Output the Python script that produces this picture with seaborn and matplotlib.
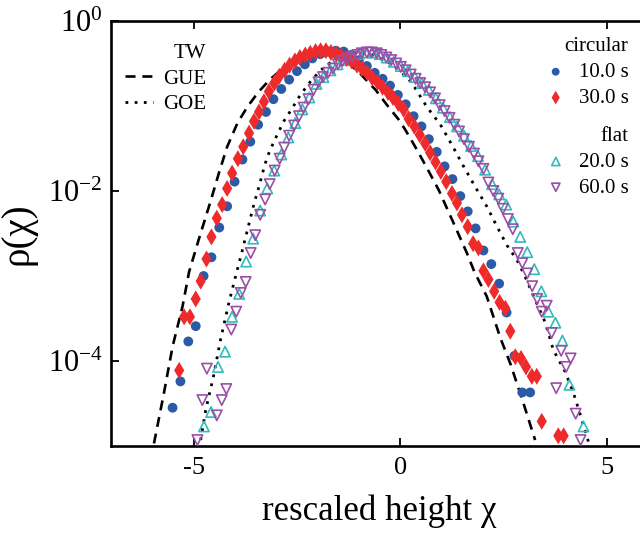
import numpy as np
import matplotlib
matplotlib.use("Agg")
import matplotlib.pyplot as plt
from matplotlib.ticker import NullLocator
import seaborn as sns

# curvas teoricas TW (x, log10 rho)
gue_x = [-5.96, -5.72, -5.51, -5.27, -5.11, -4.87, -4.59, -4.39, -4.19, -3.94, -3.70, -3.44,
         -3.16, -2.82, -2.42, -2.01, -1.61, -1.29, -0.97, -0.60, -0.32, -0.04, 0.12, 0.36,
         0.60, 0.93, 1.29, 1.61, 1.79, 2.09, 2.42, 2.66, 2.98, 3.26]
gue_logrho = [-4.97, -4.38, -3.83, -3.36, -2.95, -2.56, -2.12, -1.79, -1.48, -1.20, -1.01, -0.84,
              -0.69, -0.55, -0.43, -0.40, -0.41, -0.48, -0.62, -0.81, -0.99, -1.16, -1.28, -1.48,
              -1.69, -1.99, -2.38, -2.73, -2.95, -3.24, -3.73, -4.03, -4.50, -4.93]

goe_x = [-4.83, -4.71, -4.52, -4.35, -4.15, -4.01, -3.86, -3.70, -3.54, -3.42, -3.30, -3.22,
         -3.06, -2.82, -2.62, -2.42, -2.17, -1.93, -1.61, -1.25, -0.97, -0.64, -0.24, 0.16,
         0.32, 0.64, 0.97, 1.25, 1.53, 1.81, 2.09, 2.34, 2.58, 2.82, 3.02, 3.26, 3.50, 3.70,
         3.99, 4.19, 4.39, 4.55]
goe_logrho = [-4.93, -4.58, -4.18, -3.75, -3.32, -3.05, -2.77, -2.46, -2.15, -1.95, -1.73, -1.60,
              -1.42, -1.18, -1.03, -0.87, -0.71, -0.58, -0.46, -0.39, -0.37, -0.40, -0.50, -0.66,
              -0.76, -1.01, -1.22, -1.46, -1.71, -1.95, -2.18, -2.42, -2.64, -2.81, -3.01, -3.28,
              -3.54, -3.87, -4.13, -4.38, -4.69, -4.95]

# circular 10.0 s
circ10_x = [-5.51, -5.32, -5.13, -4.95, -4.76, -4.57, -4.38, -4.19, -4.01, -3.82, -3.63, -3.44,
            -3.25, -3.07, -2.88, -2.69, -2.50, -2.31, -2.13, -1.94, -1.75, -1.56, -1.37, -1.19,
            -1.00, -0.81, -0.62, -0.43, -0.25, -0.06, 0.13, 0.32, 0.51, 0.69, 0.88, 1.07,
            1.26, 1.45, 1.63, 1.82, 2.01, 2.20, 2.39, 2.57, 2.76, 2.95, 3.14]
circ10_logrho = [-4.55, -4.24, -3.77, -3.59, -3.00, -2.78, -2.43, -2.18, -1.89, -1.63, -1.42, -1.22,
                 -1.07, -0.92, -0.80, -0.69, -0.59, -0.51, -0.44, -0.39, -0.36, -0.35, -0.36, -0.40,
                 -0.46, -0.53, -0.61, -0.68, -0.76, -0.87, -0.98, -1.12, -1.24, -1.39, -1.54, -1.71,
                 -1.86, -2.06, -2.24, -2.44, -2.70, -2.86, -3.09, -3.43, -3.94, -4.37, -4.37]

# circular 30.0 s
circ30_x = [-5.35, -5.23, -5.09, -4.95, -4.83, -4.69, -4.57, -4.44, -4.31, -4.19, -4.07, -3.93,
            -3.80, -3.66, -3.54, -3.42, -3.30, -3.18, -3.05, -2.93, -2.80, -2.68, -2.55, -2.43,
            -2.30, -2.18, -2.05, -1.93, -1.80, -1.68, -1.55, -1.43, -1.30, -1.18, -1.05, -0.93,
            -0.80, -0.68, -0.55, -0.43, -0.30, -0.18, -0.05, 0.08, 0.20, 0.34, 0.47, 0.60,
            0.72, 0.85, 0.98, 1.11, 1.25, 1.37, 1.49, 1.63, 1.76, 1.89, 2.01, 2.13,
            2.27, 2.40, 2.54, 2.66, 2.78, 2.92, 3.04, 3.18, 3.30, 3.42, 3.82, 3.95]
circ30_logrho = [-4.11, -3.48, -3.48, -3.27, -3.06, -2.80, -2.54, -2.32, -2.16, -1.97, -1.79, -1.62,
                 -1.48, -1.32, -1.18, -1.07, -0.95, -0.83, -0.73, -0.65, -0.58, -0.52, -0.47, -0.43,
                 -0.40, -0.38, -0.36, -0.35, -0.35, -0.37, -0.39, -0.41, -0.44, -0.47, -0.52, -0.56,
                 -0.61, -0.67, -0.72, -0.78, -0.84, -0.90, -0.97, -1.04, -1.15, -1.24, -1.34, -1.44,
                 -1.55, -1.66, -1.77, -1.89, -2.03, -2.14, -2.28, -2.42, -2.62, -2.67, -2.94, -3.04,
                 -3.18, -3.31, -3.38, -3.65, -3.95, -3.97, -4.07, -4.18, -4.18, -4.71, -4.88, -4.88]

# flat 20.0 s
flat20_x = [-4.75, -4.58, -4.41, -4.24, -4.07, -3.90, -3.73, -3.56, -3.39, -3.22, -3.05, -2.88,
            -2.71, -2.54, -2.37, -2.20, -2.03, -1.86, -1.69, -1.52, -1.35, -1.18, -1.01, -0.84,
            -0.67, -0.50, -0.33, -0.16, 0.01, 0.18, 0.35, 0.52, 0.69, 0.86, 1.03, 1.20,
            1.37, 1.54, 1.71, 1.88, 2.05, 2.22, 2.39, 2.56, 2.73, 2.90, 3.07, 3.24,
            3.41, 3.58, 3.75, 3.92, 4.09, 4.43]
flat20_logrho = [-4.77, -4.60, -4.07, -3.89, -3.48, -3.21, -2.83, -2.56, -2.23, -1.97, -1.76, -1.57,
                 -1.37, -1.20, -1.04, -0.90, -0.74, -0.66, -0.58, -0.51, -0.46, -0.42, -0.39, -0.37,
                 -0.37, -0.39, -0.43, -0.48, -0.53, -0.59, -0.66, -0.73, -0.81, -0.91, -1.02, -1.13,
                 -1.24, -1.35, -1.47, -1.59, -1.75, -1.92, -2.04, -2.16, -2.36, -2.54, -2.72, -2.92,
                 -3.18, -3.42, -3.55, -3.76, -4.28, -4.77]

# flat 60.0 s
flat60_x = [-4.91, -4.79, -4.68, -4.44, -4.32, -4.21, -4.09, -3.97, -3.86, -3.74, -3.62, -3.51,
            -3.39, -3.27, -3.16, -3.04, -2.92, -2.81, -2.69, -2.57, -2.45, -2.34, -2.22, -2.10,
            -1.98, -1.87, -1.75, -1.63, -1.51, -1.40, -1.28, -1.16, -1.04, -0.93, -0.81, -0.69,
            -0.57, -0.46, -0.34, -0.22, -0.10, 0.01, 0.13, 0.25, 0.37, 0.48, 0.60, 0.72,
            0.84, 0.95, 1.07, 1.19, 1.31, 1.42, 1.54, 1.66, 1.78, 1.89, 2.01, 2.13,
            2.25, 2.37, 2.48, 2.60, 2.72, 2.84, 2.95, 3.07, 3.19, 3.31, 3.42, 3.54,
            3.66, 3.77, 3.89, 4.01, 4.12, 4.24, 4.36]
flat60_logrho = [-4.93, -4.46, -4.09, -4.64, -4.46, -4.33, -3.63, -3.42, -3.20, -3.07, -2.73, -2.52,
                 -2.28, -2.10, -1.92, -1.76, -1.62, -1.49, -1.35, -1.23, -1.12, -1.02, -0.92, -0.81,
                 -0.72, -0.66, -0.61, -0.56, -0.51, -0.47, -0.44, -0.42, -0.40, -0.38, -0.37, -0.37,
                 -0.38, -0.40, -0.43, -0.46, -0.50, -0.54, -0.58, -0.63, -0.68, -0.73, -0.78, -0.84,
                 -0.91, -0.99, -1.06, -1.14, -1.22, -1.30, -1.39, -1.48, -1.56, -1.65, -1.74, -1.90,
                 -2.00, -2.09, -2.21, -2.33, -2.45, -2.73, -2.85, -2.97, -3.12, -3.27, -3.42, -3.35,
                 -3.67, -4.32, -3.88, -4.07, -3.97, -4.62, -4.93]

x_ticks = [-5, 0, 5]
y_ticks = [1e0, 1e-2, 1e-4]

azul = "#2b5aa8"
rojo = "#ee2a2a"
cian = "#2fbcbc"
morado = "#9a4fa6"

sns.set_style("ticks")
plt.rcParams["font.family"] = ["Liberation Serif", "DejaVu Serif"]
plt.rcParams["mathtext.fontset"] = "custom"
plt.rcParams["mathtext.rm"] = "Liberation Serif"
plt.rcParams["mathtext.it"] = "Liberation Serif:italic"
plt.rcParams["axes.unicode_minus"] = False
plt.rcParams["text.color"] = "black"
plt.rcParams["axes.labelcolor"] = "black"
plt.rcParams["xtick.color"] = "black"
plt.rcParams["ytick.color"] = "black"
plt.rcParams["axes.edgecolor"] = "black"

fig = plt.figure(figsize=(6.4, 5.34), dpi=100)
ax = fig.add_axes([0.1734, 0.1648, 0.8397, 0.7959])
ax.set_yscale("log")

# curvas TW
sns.lineplot(x=gue_x, y=10 ** np.array(gue_logrho), ax=ax, color="k", lw=1.9,
             linestyle=(0, (3.8, 2.6)), sort=False, estimator=None)
sns.lineplot(x=goe_x, y=10 ** np.array(goe_logrho), ax=ax, color="k", lw=2.0,
             linestyle=(0, (1, 2.3)), sort=False, estimator=None)
l_gue, l_goe = ax.lines[0], ax.lines[1]

# datos experimentales
sns.scatterplot(x=circ10_x, y=10 ** np.array(circ10_logrho), ax=ax, marker="o", s=50,
                color=azul, edgecolor="none", linewidth=0, legend=False, zorder=3)
sns.scatterplot(x=circ30_x, y=10 ** np.array(circ30_logrho), ax=ax, marker="d", s=75,
                color=rojo, edgecolor="none", linewidth=0, legend=False, zorder=4)
sns.scatterplot(x=flat20_x, y=10 ** np.array(flat20_logrho), ax=ax, marker="^", s=55,
                color=cian, facecolor="none", edgecolor=cian, linewidth=1.2, legend=False, zorder=3)
sns.scatterplot(x=flat60_x, y=10 ** np.array(flat60_logrho), ax=ax, marker="v", s=55,
                color=morado, facecolor="none", edgecolor=morado, linewidth=1.2, legend=False, zorder=4)
sc10, sc30, sc20, sc60 = ax.collections[:4]

ax.set_xlim(-7, 6)
ax.set_ylim(1e-5, 1)
ax.set_xticks(x_ticks)
ax.set_yticks(y_ticks)
ax.yaxis.set_minor_locator(NullLocator())
ax.tick_params(axis="both", direction="in", length=6, width=1.3, top=True, right=True)
ax.tick_params(axis="x", labelsize=19, pad=8)
ax.tick_params(axis="y", labelsize=22, pad=6)
for s in ax.spines.values():
    s.set_linewidth(1.9)
    s.set_color("black")

ax.set_xlabel("rescaled height χ", fontsize=25, labelpad=11)
ax.set_ylabel("ρ(χ)", fontsize=28, labelpad=8)

# leyendas
kw = dict(frameon=False, fontsize=15, title_fontsize=15, alignment="right",
          borderpad=0, borderaxespad=0, labelspacing=0.3, bbox_transform=fig.transFigure)
leg_tw = ax.legend(handles=[l_gue, l_goe], labels=["GUE", "GOE"], title="TW",
                   loc="upper left", bbox_to_anchor=(0.196, 0.918),
                   handlelength=1.3, handletextpad=0.5, **kw)
ax.add_artist(leg_tw)
leg_c = ax.legend(handles=[sc10, sc30], labels=["10.0 s", "30.0 s"], title="circular",
                  loc="upper right", bbox_to_anchor=(0.982, 0.93),
                  handlelength=1.0, handletextpad=0.6, markerscale=0.8, **kw)
ax.add_artist(leg_c)
ax.legend(handles=[sc20, sc60], labels=["20.0 s", "60.0 s"], title="flat",
          loc="upper right", bbox_to_anchor=(0.982, 0.762),
          handlelength=1.0, handletextpad=0.6, markerscale=0.8, **kw)

fig.savefig("out.png", dpi=100)
